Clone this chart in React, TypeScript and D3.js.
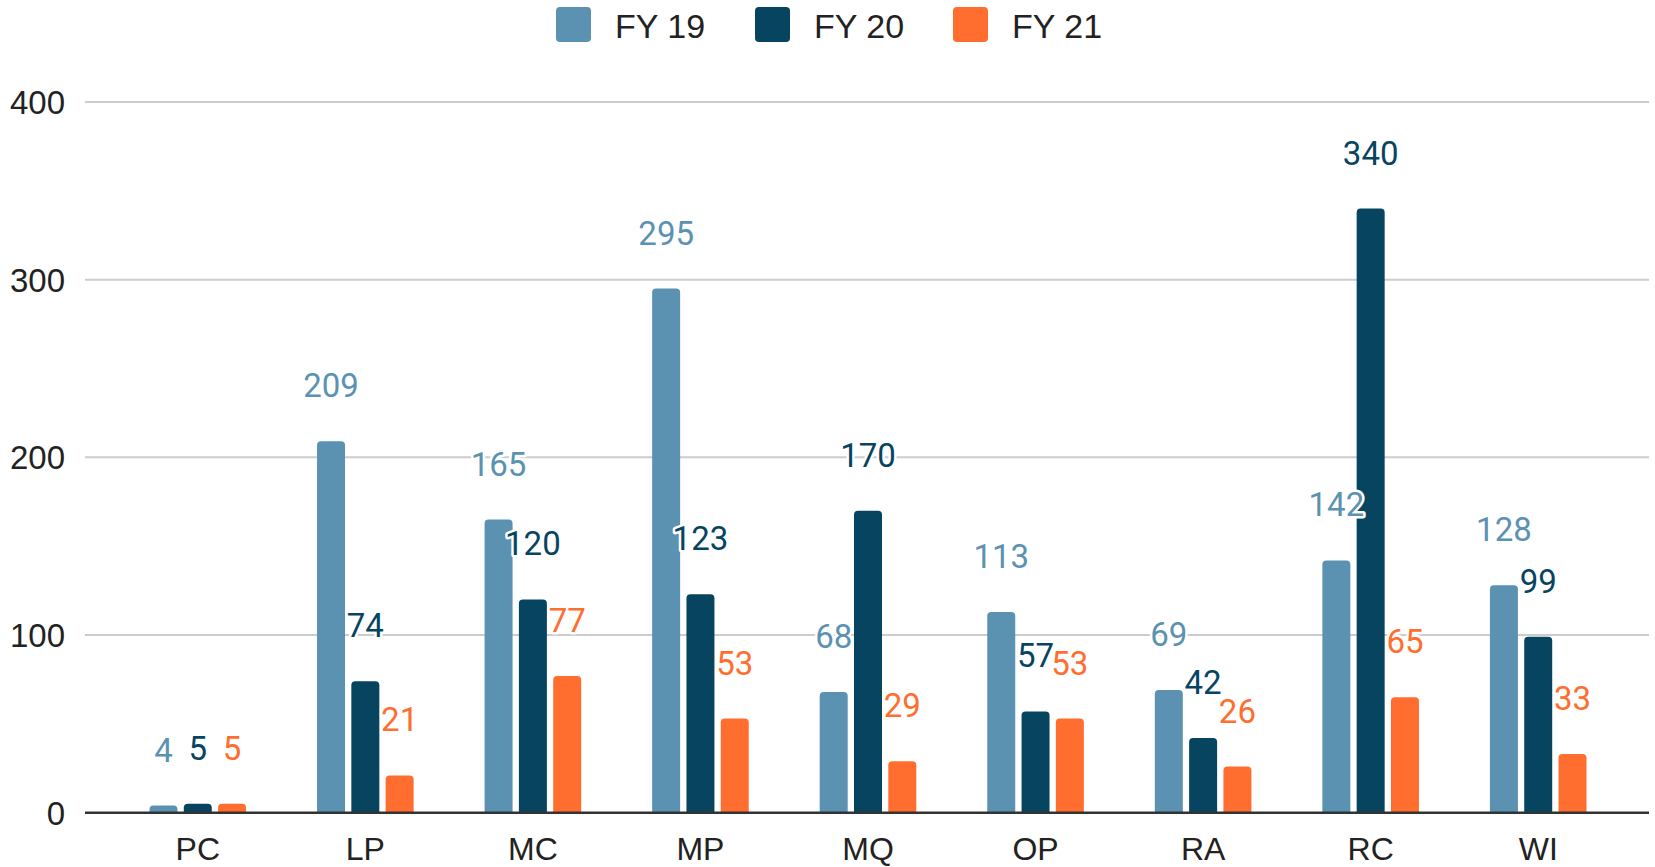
import { useEffect, useRef } from 'react';
import * as d3 from 'd3';

const categories = ['PC', 'LP', 'MC', 'MP', 'MQ', 'OP', 'RA', 'RC', 'WI'];
const seriesNames = ['FY 19', 'FY 20', 'FY 21'];
const fy19 = [4, 209, 165, 295, 68, 113, 69, 142, 128];
const fy20 = [5, 74, 120, 123, 170, 57, 42, 340, 99];
const fy21 = [5, 21, 77, 53, 29, 53, 26, 65, 33];
const yTicks = [0, 100, 200, 300, 400];
const colors = ['#5b92b1', '#06445f', '#ff6d2f'];

const W = 1655;
const H = 867;

const topRounded = (x: number, y: number, w: number, h: number, r: number) => {
  const rr = Math.min(r, h, w / 2);
  return `M${x},${y + h}V${y + rr}Q${x},${y} ${x + rr},${y}H${x + w - rr}Q${x + w},${y} ${x + w},${y + rr}V${y + h}Z`;
};

const App = () => {
  const svgRef = useRef<SVGSVGElement>(null);

  useEffect(() => {
    const svg = d3.select(svgRef.current);
    svg.selectAll('*').remove();

    const values = [fy19, fy20, fy21];
    const rows = categories.map((c, i) => ({ cat: c, vals: values.map((v) => v[i]) }));

    const x0 = d3.scaleBand().domain(categories).range([114, 1622]).padding(0);
    const groupW = 96.6;
    const x1 = d3.scaleBand().domain(seriesNames).range([0, groupW]).paddingInner(0.184);
    const y = d3.scaleLinear().domain([0, 400]).range([812.7, 102]);

    const gridLeft = 85;
    const gridRight = 1649;

    // gridlines
    svg
      .append('g')
      .selectAll('line')
      .data(yTicks.filter((t) => t !== 0))
      .join('line')
      .attr('x1', gridLeft)
      .attr('x2', gridRight)
      .attr('y1', (d) => y(d))
      .attr('y2', (d) => y(d))
      .attr('stroke', '#cccccc')
      .attr('stroke-width', 2);

    // y labels
    svg
      .append('g')
      .selectAll('text')
      .data(yTicks)
      .join('text')
      .attr('x', 65)
      .attr('y', (d) => y(d) + 12)
      .attr('text-anchor', 'end')
      .attr('font-family', '"Liberation Sans", Arial, sans-serif')
      .attr('font-size', 33)
      .attr('fill', '#222')
      .text((d) => d);

    // bars
    const groups = svg
      .append('g')
      .selectAll('g')
      .data(rows)
      .join('g')
      .attr('transform', (d) => `translate(${x0(d.cat)! + x0.bandwidth() / 2 - groupW / 2},0)`);

    groups
      .selectAll('path')
      .data((d) => d.vals.map((v, i) => ({ v, s: seriesNames[i], i })))
      .join('path')
      .attr('d', (d) => topRounded(x1(d.s)!, y(d.v), x1.bandwidth(), y(0) - y(d.v), 4))
      .attr('fill', (d) => colors[d.i]);

    // baseline
    svg
      .append('line')
      .attr('x1', gridLeft)
      .attr('x2', gridRight)
      .attr('y1', y(0))
      .attr('y2', y(0))
      .attr('stroke', '#333')
      .attr('stroke-width', 2.5);

    // value labels
    groups
      .selectAll('text')
      .data((d) => d.vals.map((v, i) => ({ v, s: seriesNames[i], i })))
      .join('text')
      .attr('x', (d) => x1(d.s)! + x1.bandwidth() / 2)
      .attr('y', (d) => y(d.v) - 44)
      .attr('text-anchor', 'middle')
      .attr('font-family', 'Roboto, sans-serif')
      .attr('font-size', 33)
      .attr('fill', (d) => colors[d.i])
      .attr('stroke', '#fff')
      .attr('stroke-width', 5)
      .attr('stroke-linejoin', 'round')
      .attr('paint-order', 'stroke')
      .text((d) => d.v);

    // category labels
    svg
      .append('g')
      .selectAll('text')
      .data(categories)
      .join('text')
      .attr('x', (d) => x0(d)! + x0.bandwidth() / 2)
      .attr('y', 860)
      .attr('text-anchor', 'middle')
      .attr('font-family', '"Liberation Sans", Arial, sans-serif')
      .attr('font-size', 32)
      .attr('fill', '#222')
      .text((d) => d);

    // legend
    const legendX = [556, 755, 953];
    const legend = svg
      .append('g')
      .selectAll('g')
      .data(seriesNames)
      .join('g')
      .attr('transform', (_d, i) => `translate(${legendX[i]},7)`);

    legend
      .append('rect')
      .attr('width', 35)
      .attr('height', 35)
      .attr('rx', 4)
      .attr('fill', (_d, i) => colors[i]);

    legend
      .append('text')
      .attr('x', 59)
      .attr('y', 30.5)
      .attr('font-family', '"Liberation Sans", Arial, sans-serif')
      .attr('font-size', 34)
      .attr('fill', '#222')
      .text((d) => d);
  }, []);

  return (
    <svg
      ref={svgRef}
      width={W}
      height={H}
      style={{ position: 'absolute', left: 0, top: 0, background: '#fff' }}
    />
  );
};

export default App;
